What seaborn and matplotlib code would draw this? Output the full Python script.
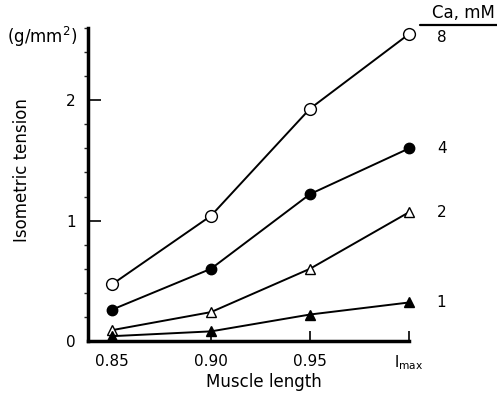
import matplotlib
matplotlib.use("Agg")
import matplotlib.pyplot as plt
import seaborn as sns
import pandas as pd
from matplotlib.ticker import MultipleLocator

sns.set_theme(style="ticks")
plt.rcParams['font.family'] = ['DejaVu Sans']
plt.rcParams['text.color'] = 'black'

lengths = [0.85, 0.90, 0.95, 1.00]
x_labels = ["0.85", "0.90", "0.95", "l$_{\\mathrm{max}}$"]
ca_levels = ["8", "4", "2", "1"]
tension_8 = [0.47, 1.04, 1.93, 2.55]
tension_4 = [0.26, 0.60, 1.22, 1.60]
tension_2 = [0.09, 0.24, 0.60, 1.07]
tension_1 = [0.04, 0.08, 0.22, 0.32]

series = {"8": tension_8, "4": tension_4, "2": tension_2, "1": tension_1}
styles = {
    "8": dict(marker="o", markerfacecolor="white", markersize=8.5),
    "4": dict(marker="o", markerfacecolor="black", markersize=7.5),
    "2": dict(marker="^", markerfacecolor="white", markersize=7.5),
    "1": dict(marker="^", markerfacecolor="black", markersize=6.5),
}
label_offsets = {"8": -0.03, "4": 0.0, "2": 0.0, "1": 0.0}

W, H = 497, 395
fig = plt.figure(figsize=(W / 100, H / 100), dpi=100)
left, right, bottom, top = 88, 412, 341, 28
ax = fig.add_axes([left / W, 1 - bottom / H, (right - left) / W, (bottom - top) / H])

for ca in ca_levels:
    df = pd.DataFrame({"length": lengths, "tension": series[ca]})
    sns.lineplot(data=df, x="length", y="tension", ax=ax, color="black",
                 linewidth=1.4, markeredgecolor="black", markeredgewidth=1.0,
                 clip_on=False, zorder=3, **styles[ca])
    ax.text(lengths[-1] + 0.014, series[ca][-1] + label_offsets[ca], ca,
            fontsize=11, ha="left", va="center", color="black")

ax.set_xlim(0.8379, 1.0015)
ax.set_ylim(0, 2.60)
ax.set_xticks(lengths)
ax.set_xticklabels(x_labels)
ax.set_yticks([0, 1, 2])
ax.yaxis.set_minor_locator(MultipleLocator(0.2))
ax.tick_params(axis="both", direction="in", colors="black", labelsize=11)
ax.tick_params(axis="y", which="major", length=9, width=1.2, pad=9)
ax.tick_params(axis="y", which="minor", length=3, width=1.0)
ax.tick_params(axis="x", which="major", length=7, width=1.2, pad=9)
ax.set_xlabel("")
ax.set_ylabel("")
for s in ["top", "right"]:
    ax.spines[s].set_visible(False)
for s in ["left", "bottom"]:
    ax.spines[s].set_linewidth(2.5)
    ax.spines[s].set_color("black")
ax.spines["bottom"].set_bounds(0.8379, 1.0)
ax.patch.set_alpha(0)

fig.text(264 / W, 1 - 382 / H, "Muscle length", fontsize=12,
         ha="center", va="center", color="black")
fig.text(22 / W, 1 - 170 / H, "Isometric tension", rotation=90, fontsize=12,
         ha="center", va="center", color="black")
fig.text(7 / W, 1 - 37 / H, "(g/mm$^2$)", fontsize=12, ha="left", va="center",
         color="black")
fig.text(463 / W, 1 - 13 / H, "Ca, mM", fontsize=12, ha="center", va="center",
         color="black")
fig.add_artist(plt.Line2D([420 / W, 497 / W], [1 - 25 / H, 1 - 25 / H],
                          color="black", linewidth=1.6))

fig.savefig("out.png", dpi=100)
